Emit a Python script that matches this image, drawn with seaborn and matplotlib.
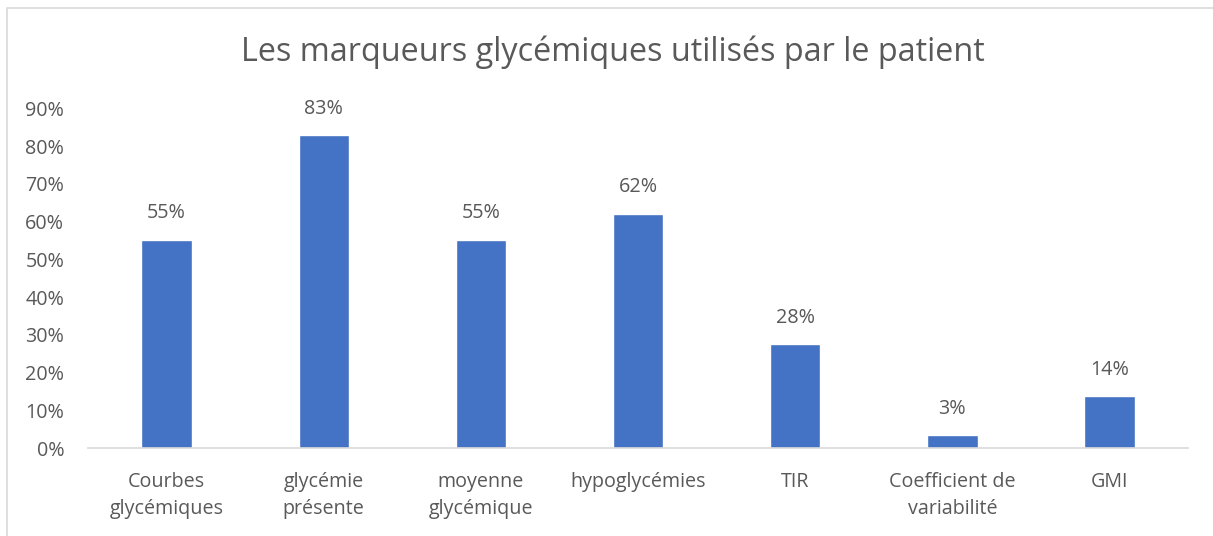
import matplotlib
matplotlib.use("Agg")
import matplotlib.pyplot as plt
import pandas as pd
import seaborn as sns
from matplotlib.patches import Rectangle

# --- data ---
categories = ["Courbes\nglycémiques", "glycémie\nprésente", "moyenne\nglycémique",
              "hypoglycémies", "TIR", "Coefficient de\nvariabilité", "GMI"]
values = [55.2, 82.8, 55.2, 62.1, 27.6, 3.4, 13.8]
y_ticks = [0, 10, 20, 30, 40, 50, 60, 70, 80, 90]
title = "Les marqueurs glycémiques utilisés par le patient"

df = pd.DataFrame({"marqueur": categories, "pct": values})

sns.set_theme(style="white")
plt.rcParams["font.family"] = ["Open Sans", "DejaVu Sans"]
text_color = "#595959"
bar_color = "#4472C4"

fig = plt.figure(figsize=(12.13, 5.36), dpi=100)
ax = fig.add_axes([0.0725, 0.164, 0.907, 0.634])

sns.barplot(data=df, x="marqueur", y="pct", color=bar_color, width=0.32,
            saturation=1, ax=ax)

ax.set_ylim(0, 90)
ax.set_yticks(y_ticks)
ax.set_yticklabels([f"{t}%" for t in y_ticks], fontsize=14.2, color=text_color)
ax.tick_params(axis="x", labelsize=14.2, colors=text_color, length=0, pad=17)
ax.tick_params(axis="y", length=0, pad=17)
for lbl in ax.get_xticklabels():
    lbl.set_linespacing(1.5)
ax.set_xlabel("")
ax.set_ylabel("")

for spine in ["top", "right", "left"]:
    ax.spines[spine].set_visible(False)
ax.spines["bottom"].set_color("#D9D9D9")
ax.spines["bottom"].set_linewidth(1.2)

for i, v in enumerate(values):
    ax.text(i, v + 4.3, f"{round(v)}%", ha="center", va="bottom",
            fontsize=14.2, color=text_color)

fig.text(0.505, 0.903, title, ha="center", va="center", fontsize=23.3, color=text_color)

# light frame around the chart area
fig.patches.append(Rectangle((0.0058, -0.02), 1.0, 1.005, transform=fig.transFigure,
                             fill=False, edgecolor="#D9D9D9", linewidth=1.2))

fig.savefig("out.png", dpi=100)
